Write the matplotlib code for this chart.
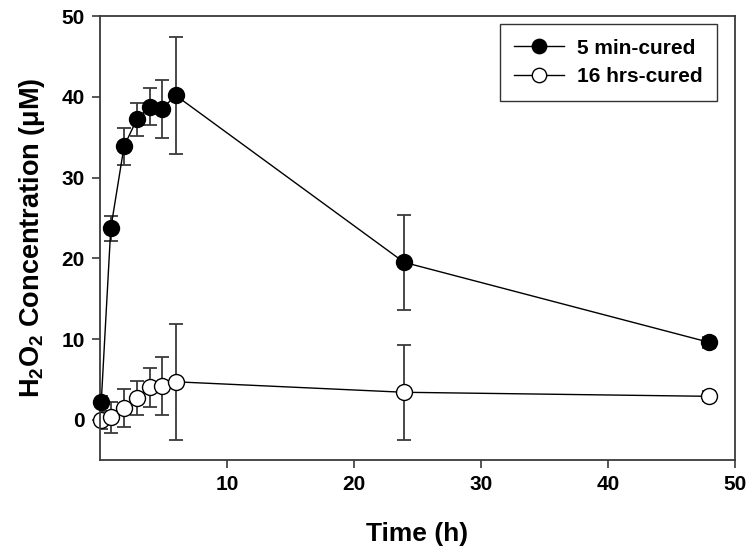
import matplotlib
matplotlib.use("Agg")
import matplotlib.pyplot as plt

plt.rcParams['font.family'] = ['Liberation Sans', 'DejaVu Sans']
plt.rcParams['font.weight'] = 'bold'
plt.rcParams['mathtext.fontset'] = 'custom'
plt.rcParams['mathtext.rm'] = 'Liberation Sans:bold'
plt.rcParams['mathtext.bf'] = 'Liberation Sans:bold'

# Time points (h)
time = [0.1, 0.85, 1.9, 2.9, 3.9, 4.9, 5.95, 23.95, 47.95]

# 5 min-cured
conc_5min = [2.2, 23.7, 33.9, 37.2, 38.8, 38.5, 40.2, 19.5, 9.6]
err_5min = [0.8, 1.5, 2.3, 2.1, 2.3, 3.6, 7.25, 5.9, 0.7]

# 16 hrs-cured
conc_16h = [0.0, 0.3, 1.45, 2.7, 4.0, 4.2, 4.7, 3.4, 2.9]
err_16h = [1.1, 1.9, 2.3, 2.15, 2.4, 3.6, 7.2, 5.9, 0.6]

fig = plt.figure(figsize=(7.54, 5.57), dpi=100)
ax = fig.add_axes([0.1326, 0.174, 0.842, 0.797])

ebc = '#3a3a3a'
ax.errorbar(time, conc_16h, yerr=err_16h, fmt='none', ecolor=ebc,
            elinewidth=1.3, capsize=5, capthick=1.3, zorder=1)
ax.errorbar(time, conc_5min, yerr=err_5min, fmt='none', ecolor=ebc,
            elinewidth=1.3, capsize=5, capthick=1.3, zorder=1)

ax.plot(time, conc_16h, '-o', color='black', lw=1.0, markersize=11.5,
        markerfacecolor='white', markeredgecolor='black', markeredgewidth=1.0,
        label='16 hrs-cured', zorder=2, clip_on=False)
ax.plot(time, conc_5min, '-o', color='black', lw=1.0, markersize=11.5,
        markerfacecolor='black', markeredgecolor='black',
        label='5 min-cured', zorder=3, clip_on=False)

ax.set_xlim(0, 50)
ax.set_ylim(-5, 50)
ax.set_xticks([10, 20, 30, 40, 50])
ax.set_yticks([0, 10, 20, 30, 40, 50])
ax.tick_params(direction='out', length=6, width=1.2, color=ebc,
               labelsize=15, pad=5, top=False, right=False)
for lab in ax.get_xticklabels() + ax.get_yticklabels():
    lab.set_fontweight('bold')
for sp in ax.spines.values():
    sp.set_color(ebc)
    sp.set_linewidth(1.3)

ax.set_xlabel('Time (h)', fontsize=19, fontweight='bold', labelpad=20)
ax.set_ylabel(r'H$_2$O$_2$ Concentration ($\mathbf{\mu}$M)', fontsize=19.5,
              fontweight='bold', labelpad=10)

handles, labels = ax.get_legend_handles_labels()
leg = ax.legend(handles[::-1], labels[::-1], loc='upper right',
                bbox_to_anchor=(0.972, 0.982), borderaxespad=0,
                prop={'size': 15, 'weight': 'bold'},
                frameon=True, fancybox=False, edgecolor='black',
                handlelength=2.4, handletextpad=0.6, borderpad=0.7,
                labelspacing=0.45, markerscale=0.9)
leg.get_frame().set_linewidth(1.0)

fig.savefig('out.png', dpi=100)
